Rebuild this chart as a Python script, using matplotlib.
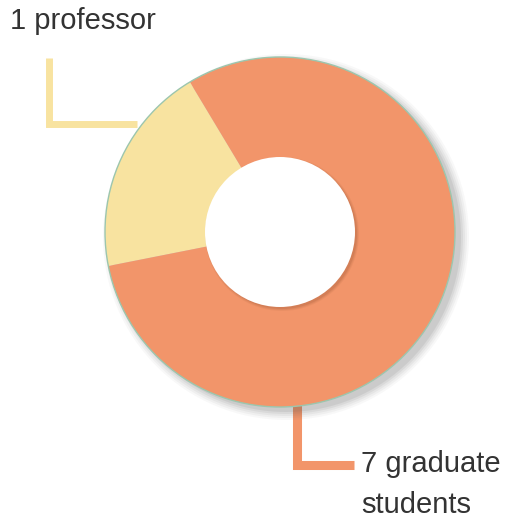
import matplotlib.pyplot as plt
from matplotlib.patches import Circle

# data
labels = ["1 professor", "7 graduate", "students"]
counts = [1, 7]
shares = [19.5, 80.5]  # slice sizes as drawn in the picture
colors = ["#F8E3A0", "#F2956A"]

W, H = 508, 515
fig = plt.figure(figsize=(W / 100, H / 100), dpi=100)
ax = fig.add_axes([0, 0, 1, 1])

cx, cy = 280, H - 232
r_out, r_in = 175, 75

# soft drop shadow under the ring
for i, a in enumerate([0.04, 0.05, 0.06, 0.08, 0.1]):
    ax.add_patch(Circle((cx + 6, cy - 5), r_out + 8 - 2 * i, color="#555555",
                        alpha=a, lw=0, zorder=1))

wedges, _ = ax.pie(shares, colors=colors, startangle=121, counterclock=True,
                   radius=r_out, center=(cx, cy),
                   wedgeprops=dict(linewidth=0))
for w in wedges:
    w.set_zorder(2)
ax.add_patch(Circle((cx, cy), r_out, fill=False, ec="#9cc6ae", lw=1, zorder=3))

# hole with a small shadow
for i, a in enumerate([0.08, 0.1, 0.14]):
    ax.add_patch(Circle((cx + 2, cy - 2), r_in + 2 - i, color="#8a4a2a",
                        alpha=a, lw=0, zorder=4))
ax.add_patch(Circle((cx, cy), r_in, color="white", lw=0, zorder=5))

# leader lines
ax.plot([49, 49, 137], [H - 58, H - 124, H - 124], color=colors[0], lw=5,
        solid_joinstyle="miter", solid_capstyle="butt", zorder=0)
ax.plot([297, 297, 354], [H - 395, H - 464.5, H - 464.5], color=colors[1], lw=6.5,
        solid_joinstyle="miter", solid_capstyle="butt", zorder=0)

font = dict(fontsize=21, family="Liberation Sans", color="#333333",
            va="baseline", ha="left")
ax.text(10, H - 29, labels[0], **font)
ax.text(361, H - 472, labels[1], **font)
ax.text(361, H - 513, labels[2], **font)

ax.set_xlim(0, W)
ax.set_ylim(0, H)
ax.set_aspect("auto")
ax.axis("off")
fig.savefig("out.png", dpi=100)
